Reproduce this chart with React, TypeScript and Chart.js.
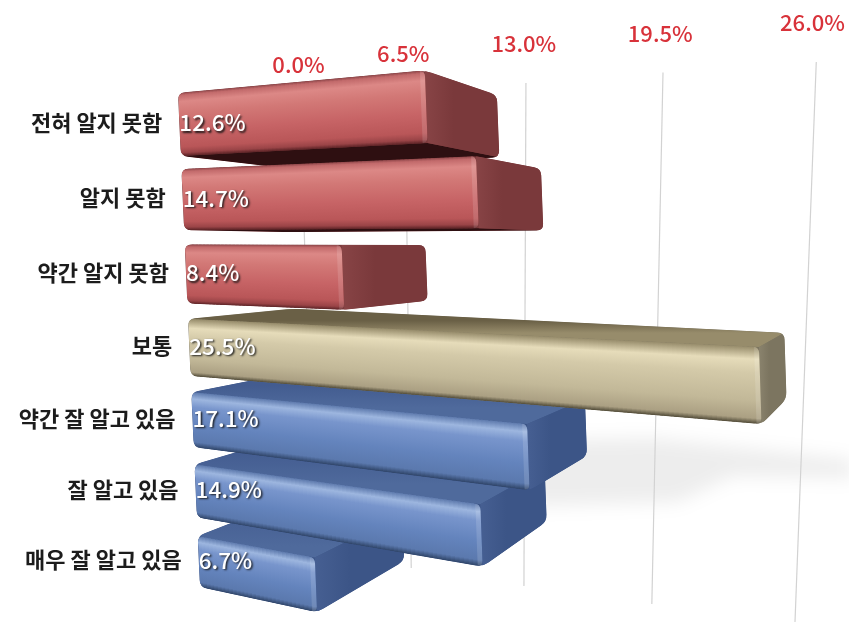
import React, { useEffect, useRef } from "react";
import { Chart, registerables } from "chart.js";

Chart.register(...registerables);

const categories = ["전혀 알지 못함", "알지 못함", "약간 알지 못함", "보통", "약간 잘 알고 있음", "잘 알고 있음", "매우 잘 알고 있음"];
const values = [12.6, 14.7, 8.4, 25.5, 17.1, 14.9, 6.7];
const groups = ["red", "red", "red", "gold", "blue", "blue", "blue"];
const axisTicks = [0, 6.5, 13, 19.5, 26];
const paintOrder = [6, 5, 4, 3, 0, 1, 2];

const FONT = '"Noto Sans CJK KR", "Noto Sans", sans-serif';

type Palette = { base: string; cap: string; capLight: string; topDark: string; topLight: string; under: string; front: [number, string][] };
const palettes: Record<string, Palette> = {
  red: {
    base: "#c96668", cap: "#7a393b", capLight: "#884446", topDark: "#7d3b3e", topLight: "#a85558", under: "#2e0f11",
    front: [[0, "#8e4649"], [0.04, "#c26a6b"], [0.14, "#dc8886"], [0.32, "#d27876"], [0.6, "#c76466"], [0.86, "#b95658"], [0.95, "#9a4447"], [1, "#5c2326"]],
  },
  gold: {
    base: "#d2c9a8", cap: "#7c7560", capLight: "#8a836d", topDark: "#6a6046", topLight: "#978c6b", under: "#4a4433",
    front: [[0, "#978c6b"], [0.16, "#e6dcba"], [0.34, "#d4caa9"], [0.7, "#c2b898"], [0.93, "#aba083"], [1, "#4f4936"]],
  },
  blue: {
    base: "#6a88bf", cap: "#3c5587", capLight: "#465f92", topDark: "#435c90", topLight: "#4f6a9c", under: "#26395e",
    front: [[0, "#5f7bae"], [0.12, "#9db6df"], [0.27, "#7895cc"], [0.6, "#6484bd"], [0.9, "#5b79ae"], [1, "#2e4366"]],
  },
};

const LINEAR = 0.749;
const bend = (u: number) => LINEAR * u + (1 - LINEAR) * u * u;
const DEPTH = 0.14;

function roundedPath(ctx: CanvasRenderingContext2D, pts: number[][], r: number) {
  const n = pts.length;
  ctx.beginPath();
  for (let i = 0; i < n; i++) {
    const p = pts[(i + n - 1) % n], c = pts[i], q = pts[(i + 1) % n];
    const lp = Math.hypot(c[0] - p[0], c[1] - p[1]) || 1;
    const lq = Math.hypot(c[0] - q[0], c[1] - q[1]) || 1;
    const cp = Math.min(r, lp / 2), cq = Math.min(r, lq / 2);
    const a = [c[0] + ((p[0] - c[0]) * cp) / lp, c[1] + ((p[1] - c[1]) * cp) / lp];
    const b = [c[0] + ((q[0] - c[0]) * cq) / lq, c[1] + ((q[1] - c[1]) * cq) / lq];
    if (i === 0) ctx.moveTo(a[0], a[1]);
    else ctx.lineTo(a[0], a[1]);
    ctx.quadraticCurveTo(c[0], c[1], b[0], b[1]);
  }
  ctx.closePath();
}

function hull(points: number[][]) {
  const pts = [...points].sort((a, b) => a[0] - b[0] || a[1] - b[1]);
  const cross = (o: number[], a: number[], b: number[]) => (a[0] - o[0]) * (b[1] - o[1]) - (a[1] - o[1]) * (b[0] - o[0]);
  const lower: number[][] = [];
  for (const p of pts) {
    while (lower.length >= 2 && cross(lower[lower.length - 2], lower[lower.length - 1], p) <= 0) lower.pop();
    lower.push(p);
  }
  const upper: number[][] = [];
  for (const p of [...pts].reverse()) {
    while (upper.length >= 2 && cross(upper[upper.length - 2], upper[upper.length - 1], p) <= 0) upper.pop();
    upper.push(p);
  }
  return lower.slice(0, -1).concat(upper.slice(0, -1));
}

function poly(ctx: CanvasRenderingContext2D, pts: number[][]) {
  ctx.beginPath();
  pts.forEach((p, i) => (i ? ctx.lineTo(p[0], p[1]) : ctx.moveTo(p[0], p[1])));
  ctx.closePath();
}

const backdrop = {
  id: "backdrop",
  beforeDatasetsDraw(chart: any) {
    const { ctx, chartArea, scales } = chart;
    const x = scales.x;
    ctx.save();
    // soft floor shadow
    ctx.filter = "blur(9px)";
    ctx.fillStyle = "rgba(0,0,0,0.07)";
    ctx.beginPath();
    ctx.moveTo(chartArea.right - 110, 438);
    ctx.lineTo(chartArea.right + 90, 460);
    ctx.lineTo(chartArea.right + 90, 478);
    ctx.lineTo(chartArea.right - 30, 476);
    ctx.lineTo(chartArea.right - 85, 502);
    ctx.lineTo(chartArea.right - 230, 506);
    ctx.lineTo(chartArea.right - 230, 440);
    ctx.closePath();
    ctx.fill();
    ctx.filter = "none";
    ctx.strokeStyle = "#d2d2d2";
    ctx.lineWidth = 1.2;
    ctx.font = `500 22px ${FONT}`;
    ctx.textAlign = "center";
    ctx.textBaseline = "middle";
    axisTicks.forEach((v) => {
      const u = (x.getPixelForValue(v) - chartArea.left) / chartArea.width;
      const gx = chartArea.left + 126.5 + 505 * bend(u);
      const lean = 0.03 - 0.068 * u;
      const yT = 104 - 42 * u, yB = 550 + 72 * u;
      ctx.beginPath();
      ctx.moveTo(gx + lean * (yT - 240), yT);
      ctx.lineTo(gx + lean * (yB - 240), yB);
      ctx.stroke();
      ctx.fillStyle = "#d8323a";
      ctx.fillText(`${v.toFixed(1)}%`, gx - 6 + 9 * u, 64.5 - 41.5 * u);
    });
    ctx.restore();
  },
};

const bars3d = {
  id: "bars3d",
  beforeDatasetDraw() {
    return false;
  },
  afterDatasetsDraw(chart: any) {
    const { ctx, chartArea } = chart;
    const meta = chart.getDatasetMeta(0);
    const L = chartArea.left, W = chartArea.width;
    const warp = (y: number) => y + 4.5 * Math.sin((Math.PI * (y - 124)) / 437);
    const shorten = (y: number) => 1 - 0.045 * Math.min(1, Math.max(0, (y - 350) / 60));
    const project = (u: number, yw: number, d: number, mid: number) => {
      const f = W * bend(u) * shorten(mid);
      let px = L + (yw - 93) * 0.0444 + f;
      let py = 240 + (yw - 240) * (1 + 0.00062 * f);
      px += d * (940 - px);
      py += d * (245 - py);
      return [px, py];
    };
    const leftAt = (yw: number) => L + (yw - 93) * 0.0444;

    paintOrder.forEach((i) => {
      const el = meta.data[i];
      const pal = palettes[groups[i]];
      const u = (el.x - L) / W;
      const mid = warp(el.y);
      const half = (el.height / 2) * (1.05 - (0.2 * (el.y - 124)) / 437);
      const top = mid - half, bot = mid + half;
      const P = (uu: number, yw: number, d: number) => project(uu, yw, d, mid);
      const fTL = P(0, top, 0), fTR = P(u, top, 0), fBR = P(u, bot, 0), fBL = P(0, bot, 0);
      const bTL = P(0, top, DEPTH), bTR = P(u, top, DEPTH), bBR = P(u, bot, DEPTH), bBL = P(0, bot, DEPTH);

      ctx.save();
      const outline = hull([fTL, fTR, fBR, fBL, bTL, bTR, bBR, bBL]);
      roundedPath(ctx, outline, 7);
      ctx.clip();
      ctx.fillStyle = pal.cap;
      ctx.fillRect(0, 0, chart.width, chart.height);
      // top face, only when the camera sees it
      if (bTL[1] < fTL[1]) {
        const tg = ctx.createLinearGradient(0, (bTL[1] + bTR[1]) / 2, 0, (fTL[1] + fTR[1]) / 2);
        tg.addColorStop(0, pal.topDark);
        tg.addColorStop(1, pal.topLight);
        ctx.fillStyle = tg;
        poly(ctx, [fTL, bTL, bTR, fTR]);
        ctx.fill();
      }
      // underside, only when the camera sees it
      if (bBL[1] > fBL[1]) {
        ctx.fillStyle = pal.under;
        poly(ctx, [fBL, bBL, bBR, fBR]);
        ctx.fill();
      }
      // end cap
      const cg = ctx.createLinearGradient(fTR[0], 0, bTR[0], 0);
      cg.addColorStop(0, pal.capLight);
      cg.addColorStop(0.4, pal.cap);
      cg.addColorStop(1, pal.cap);
      ctx.fillStyle = cg;
      poly(ctx, [fTR, bTR, bBR, fBR]);
      ctx.fill();
      // front face, sliced so that the shading follows the perspective
      ctx.save();
      roundedPath(ctx, [fTL, fTR, fBR, fBL], 6);
      ctx.clip();
      const n = Math.ceil((fTR[0] - fTL[0]) / 4);
      for (let s = 0; s < n; s++) {
        const u0 = (u * s) / n, u1 = (u * (s + 1.4)) / n, um = (u0 + u1) / 2;
        const a = P(um, top, 0), b = P(um, bot, 0);
        const g = ctx.createLinearGradient(0, a[1], 0, b[1]);
        pal.front.forEach(([o, c]) => g.addColorStop(o, c));
        ctx.fillStyle = g;
        const p0 = P(u0, top, 0), p1 = P(u1, top, 0), p2 = P(u1, bot, 0), p3 = P(u0, bot, 0);
        ctx.beginPath();
        ctx.moveTo(p0[0], p0[1] - 3);
        ctx.lineTo(p1[0] + 1, p1[1] - 3);
        ctx.lineTo(p2[0] + 1, p2[1] + 3);
        ctx.lineTo(p3[0], p3[1] + 3);
        ctx.closePath();
        ctx.fill();
      }
      // soft bevel at the right end of the front face
      ctx.strokeStyle = "rgba(255,255,255,0.13)";
      ctx.lineWidth = 5;
      ctx.beginPath();
      ctx.moveTo(fTR[0] - 2.5, fTR[1]);
      ctx.lineTo(fBR[0] - 2.5, fBR[1]);
      ctx.stroke();
      ctx.restore();
      ctx.restore();
    });

    // texts
    ctx.save();
    ctx.textBaseline = "middle";
    meta.data.forEach((el: any, i: number) => {
      const y = warp(chart.scales.y.getPixelForTick(i)) - 1.5;
      ctx.textAlign = "right";
      ctx.fillStyle = "#1c1c1c";
      ctx.font = `700 22px ${FONT}`;
      ctx.fillText(categories[i], leftAt(y) - 17, y);
      ctx.save();
      ctx.textAlign = "left";
      ctx.shadowColor = "rgba(20,20,20,0.9)";
      ctx.shadowBlur = 2;
      ctx.shadowOffsetX = 1.5;
      ctx.shadowOffsetY = 1.5;
      ctx.fillStyle = "#ffffff";
      ctx.font = `500 22.5px ${FONT}`;
      ctx.fillText(`${values[i].toFixed(1)}%`, leftAt(y), y);
      ctx.restore();
    });
    ctx.restore();
  },
};

export default function App() {
  const ref = useRef<HTMLCanvasElement>(null);
  useEffect(() => {
    document.body.style.margin = "0";
    const chart = new Chart(ref.current as HTMLCanvasElement, {
      type: "bar",
      data: {
        labels: categories,
        datasets: [{
          data: values,
          backgroundColor: groups.map((g) => palettes[g].base),
          categoryPercentage: 1,
          barPercentage: 0.823,
        }],
      },
      options: {
        indexAxis: "y",
        responsive: false,
        animation: false,
        layout: { padding: { left: 178, right: 86, top: 88, bottom: 25 } },
        scales: {
          x: { type: "linear", display: false, min: 0, max: 26 },
          y: { type: "category", display: false, offset: true },
        },
        plugins: { legend: { display: false }, tooltip: { enabled: false } },
      },
      plugins: [backdrop, bars3d],
    } as any);
    return () => chart.destroy();
  }, []);
  return <canvas ref={ref} width={849} height={623} style={{ display: "block", filter: "blur(0.4px)" }} />;
}
